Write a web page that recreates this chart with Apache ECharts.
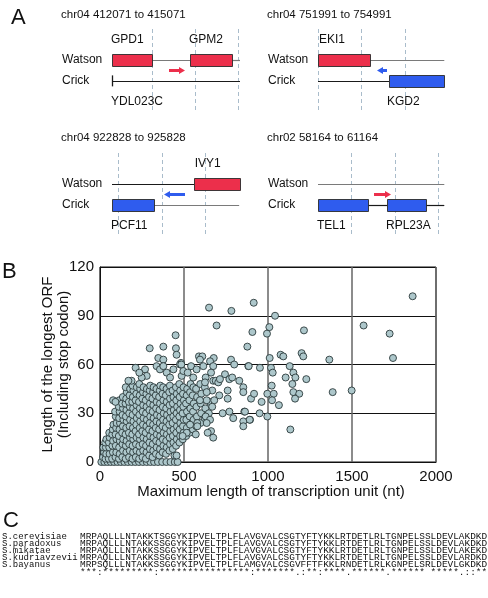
<!DOCTYPE html>
<html><head><meta charset="utf-8">
<script src="https://cdn.jsdelivr.net/npm/echarts@6/dist/echarts.min.js"></script>
<style>html,body{margin:0;padding:0;background:#fff}#c{width:488px;height:598px}</style>
</head><body><div id="c"></div>
<script>
const FONT = '"Liberation Sans", Arial, Helvetica, sans-serif';
const MONO = '"Liberation Mono", "Courier New", monospace';

// ---------- Panel A data ----------
const regionTitles = ['chr04 412071 to 415071', 'chr04 751991 to 754991', 'chr04 922828 to 925828', 'chr02 58164 to 61164'];
const strandRows = ['below', 'Crick', 'Watson', 'above'];
// gene boxes: [start, end, strand] (bp from region start)
const geneBoxes = [
  [[0, 938, 'Watson'], [1828, 2813, 'Watson']],
  [[0, 1219, 'Watson'], [1664, 2960, 'Crick']],
  [[1922, 3000, 'Watson'], [0, 984, 'Crick']],
  [[0, 1172, 'Crick'], [1617, 2531, 'Crick']]
];
// gene labels: [position, row, name]
const geneLabels = [
  [[0, 'above', 'GPD1'], [1828, 'above', 'GPM2'], [0, 'below', 'YDL023C']],
  [[47, 'above', 'EKI1'], [1641, 'below', 'KGD2']],
  [[1960, 'above', 'IVY1'], [0, 'below', 'PCF11']],
  [[0, 'below', 'TEL1'], [1617, 'below', 'RPL23A']]
];
// backbone segments: grey and dark, [start, end, strand]
const greySegments = [
  [[938, 1828, 'Watson'], [2813, 3000, 'Watson']],
  [[1219, 2960, 'Watson']],
  [[984, 2980, 'Crick']],
  [[0, 2960, 'Watson']]
];
const darkSegments = [
  [[0, 3000, 'Crick']],
  [[0, 1664, 'Crick']],
  [[0, 1922, 'Watson']],
  [[1172, 1617, 'Crick'], [2531, 2960, 'Crick']]
];
const startTicks = [[[0, 'Crick']], [], [], []];
// direction arrows: [from, to]
const arrows = [[[1336, 1711]], [[1617, 1383]], [[1711, 1219]], [[1313, 1711]]];
// dashed guide positions
const guides = [[938, 1945, 2953], [0, 1008, 2039], [141, 1172, 2180], [774, 1805, 2813]];

// ---------- Panel B data ----------
const xTicks = [0, 500, 1000, 1500, 2000];
const yTicks = [0, 30, 60, 90, 120];
const orfPoints = [
  // baseline row
  [8,0],[26,0],[45,0],[64,0],[84,0],[104,0],[124,0],[145,0],[166,0],[188,0],[210,0],[232,0],[255,0],[278,0],[300,0],[322,0],[345,0],[370,0],[395,0],[420,0],[445,0],[462,0],[443,4],[456,4],
  // dense wedge
  [18,3],[24,6],[20,9],
  [33,2],[37,5],[35,9],[31,12],[38,14],
  [52,2],[57,5],[55,9],[53,12],[58,15],[55,18],
  [72,2],[77,6],[74,10],[78,13],[73,17],[76,20],[80,23],
  [92,3],[97,6],[94,10],[98,14],[93,17],[96,21],[99,24],[94,28],[90,31],
  [113,2],[117,5],[114,9],[118,13],[112,16],[116,20],[119,24],[114,27],[117,31],[112,34],[115,38],[78,38],[92,37],
  [133,3],[137,7],[134,11],[138,14],[132,18],[136,22],[139,26],[134,29],[137,33],[132,36],[136,40],
  [153,2],[157,6],[154,10],[158,13],[152,17],[156,21],[159,25],[154,28],[157,32],[152,36],[156,39],[159,43],[153,46],
  [173,3],[177,7],[174,11],[178,15],[172,18],[176,22],[179,26],[174,30],[177,34],[172,37],[176,41],[179,45],
  [193,2],[197,6],[194,10],[198,14],[192,17],[196,21],[199,25],[194,29],[197,33],[192,37],[196,40],[199,44],[194,47],
  [213,3],[217,7],[214,11],[218,15],[212,19],[216,23],[219,27],[214,31],[217,35],[212,38],[216,42],[219,46],
  [233,2],[237,6],[234,10],[238,14],[232,17],[236,21],[239,25],[234,29],[237,33],[232,37],[236,41],[239,45],[234,48],
  [253,3],[257,7],[254,11],[258,15],[252,19],[256,23],[259,27],[254,31],[257,35],[252,39],[256,43],[259,46],
  [273,2],[277,6],[274,10],[278,14],[272,18],[276,22],[279,26],[274,30],[277,34],[272,38],[276,42],[279,45],
  [293,4],[297,8],[294,12],[298,16],[292,20],[296,24],[299,28],[294,32],[297,36],[292,40],[296,44],[299,47],
  [313,3],[317,7],[314,11],[318,15],[312,19],[316,23],[319,27],[314,31],[317,35],[312,39],[316,43],[319,46],
  [333,5],[337,9],[334,13],[338,17],[332,21],[336,25],[339,29],[334,33],[337,37],[332,41],[336,45],
  [353,4],[357,8],[354,12],[358,16],[352,20],[356,24],[359,28],[354,32],[357,36],[352,40],[356,44],[359,47],
  [373,6],[377,10],[374,14],[378,18],[372,22],[376,26],[379,30],[374,34],[377,38],[372,42],[376,46],
  [393,5],[397,9],[394,13],[398,17],[392,21],[396,25],[399,29],[394,33],[397,37],[392,41],[396,45],
  [413,7],[417,11],[414,15],[418,19],[412,23],[416,27],[419,31],[414,35],[417,39],[412,43],[416,47],
  [433,8],[437,12],[434,16],[438,20],[432,24],[436,28],[439,32],[434,36],[437,40],[432,44],
  [453,10],[457,14],[454,18],[458,22],[452,26],[456,30],[459,34],[454,38],[457,42],[452,46],
  [473,12],[477,16],[474,20],[478,24],[472,28],[476,32],[479,36],[474,40],[477,44],[472,48],
  [493,14],[497,18],[494,22],[498,26],[492,30],[496,34],[499,38],[494,42],[497,46],
  [513,16],[517,21],[514,26],[518,31],[512,36],[516,41],[519,45],
  [533,18],[537,23],[534,28],[538,33],[532,38],[536,43],[539,48],
  [553,20],[557,26],[554,31],[558,36],[552,41],[556,46],
  [573,22],[577,28],[574,34],[578,40],[572,45],
  [598,24],[602,30],[599,36],[603,42],[597,48],
  [623,27],[627,33],[624,46],[648,30],[652,37],
  // upper scatter of the wedge
  [450,78],[452,70],[456,66],[296,70],[377,71],[347,64],[377,63],[482,61],
  [212,58],[268,57],[278,53],[248,52],[234,55],[188,50],[169,50],[337,59],[357,57],[377,59],[397,55],[417,52],[437,57],[476,60],[486,53],
  // 500-1000 nt
  [649,95],[782,93],[694,84],[589,65],[609,65],[595,63],[677,64],[655,62],[780,63],[799,60],[484,60],[542,59],[575,57],[615,59],[674,59],
  [883,59],[952,58],[496,56],[522,55],[555,52],[661,55],[674,50],[629,52],[625,49],[744,54],[770,51],[787,52],[689,50],[704,49],[714,51],
  [829,50],[853,46],[853,43],[760,44],[760,39],[899,39],[917,42],[962,37],[710,41],[668,44],[635,43],[680,38],[635,38],[595,38],[668,34],
  [730,30],[770,31],[859,31],[950,30],[996,28],[793,27],[853,25],[853,22],[893,26],[629,28],[655,26],[635,24],[579,24],[579,22],[536,23],
  [661,19],[641,18],[674,15],[570,17],[516,18],[492,16],[915,98],[907,80],[877,71],[885,59],[863,31],[891,26],
  // > 1000 nt
  [1861,102],[1042,90],[1569,84],[1008,83],[994,79],[1724,79],[1214,81],[1075,66],[1091,65],[1200,67],[1210,65],[1010,64],[1365,63],[1744,64],
  [1018,58],[1028,55],[1129,59],[1151,55],[1163,52],[1105,52],[1228,51],[1145,48],[1022,47],[996,42],[1034,42],[1151,43],[1186,42],
  [1161,39],[1024,38],[1065,35],[1385,43],[1498,44],[1133,20]
];

// ---------- Panel C data ----------
const species = ['S.cerevisiae', 'S.paradoxus', 'S.mikatae', 'S.kudriavzevii', 'S.bayanus'];
const sequences = [
  'MRPAQLLLNTAKKTSGGYKIPVELTPLFLAVGVALCSGTYFTYKKLRTDETLRLTGNPELSSLDEVLAKDKD',
  'MRPAQLLLNTAKKSSGGYKIPVELTPLFLAVGVALCSGTYFTYKKLRTDETLRLTGNPELSSLDEVLAKDKD',
  'MRPAQLLLNTAKKSSGGYKIPVELTPLFLAVGVALCSGTYFTYKKLRTDETLRLTGNPELSSLDEVLAKEKD',
  'MRPAQLLLNTAKKSSGGYKIPVELTPLFLAVGVALCSGTYFTYKKLRTDETLRLTGNPELSSLDEVLARDKD',
  'MRPSQLLLNTAKKSSGGYKIPVELTPLFLAMGVALCSGVFFTFKKLRNDETLRLKGNPELSRLDEVLGKDKD'
];
const conservation = '***:*********:****************:*******.:**:****.******.****** *****.::**';

// ---------- layout ----------
const panelPos = [{left: 112, top: 29}, {left: 318, top: 29}, {left: 112, top: 153}, {left: 318, top: 153}];
const titlePos = [[61, 15], [267, 15], [61, 138], [267, 138]];
const RED = '#ec2f4b', BLUE = '#2f5cee';

const grids = [], xAxes = [], yAxes = [], series = [];
panelPos.forEach((p, i) => {
  grids.push({left: p.left, top: p.top, width: 128, height: 83});
  xAxes.push({type: 'value', gridIndex: i, min: 0, max: 3000, show: false});
  yAxes.push({type: 'category', gridIndex: i, data: strandRows, boundaryGap: true,
    axisLine: {show: false}, axisTick: {show: false}, splitLine: {show: false},
    axisLabel: {show: true, interval: 0, align: 'left', margin: 50, fontSize: 12, fontFamily: FONT, color: '#111',
      formatter: v => (v === 'Crick' || v === 'Watson') ? v : ''}});
  const row = r => strandRows.indexOf(r);
  series.push({type: 'custom', xAxisIndex: i, yAxisIndex: i, silent: true, z: 1,
    data: guides[i].map(g => [g, 0]), encode: {x: 0, y: 1},
    renderItem(params, api) {
      const x = Math.round(api.coord([api.value(0), 0])[0]) + 0.5;
      const cs = params.coordSys;
      return {type: 'line', shape: {x1: x, y1: cs.y, x2: x, y2: cs.y + cs.height},
        style: {stroke: '#a9bccb', lineWidth: 1, lineDash: [4, 3]}};
    }});
  [[greySegments[i], '#7a7a7a'], [darkSegments[i], '#1a1a1a']].forEach(([segs, col]) => {
    series.push({type: 'custom', xAxisIndex: i, yAxisIndex: i, silent: true, z: 2,
      data: segs.map(s => [s[0], s[1], row(s[2])]), encode: {x: [0, 1], y: 2},
      renderItem(params, api) {
        const a = api.coord([api.value(0), api.value(2)]);
        const b = api.coord([api.value(1), api.value(2)]);
        const y = Math.round(a[1]) + 0.5;
        return {type: 'line', shape: {x1: a[0], y1: y, x2: b[0], y2: y}, style: {stroke: col, lineWidth: 1.2}};
      }});
  });
  series.push({type: 'custom', xAxisIndex: i, yAxisIndex: i, silent: true, z: 2,
    data: startTicks[i].map(s => [s[0], row(s[1])]), encode: {x: 0, y: 1},
    renderItem(params, api) {
      const a = api.coord([api.value(0), api.value(1)]);
      return {type: 'line', shape: {x1: a[0] + 0.5, y1: a[1] - 5.5, x2: a[0] + 0.5, y2: a[1] + 5.5}, style: {stroke: '#1a1a1a', lineWidth: 1.3}};
    }});
  series.push({type: 'custom', xAxisIndex: i, yAxisIndex: i, silent: true, z: 3,
    data: geneBoxes[i].map(g => [g[0], g[1], row(g[2])]), encode: {x: [0, 1], y: 2},
    renderItem(params, api) {
      const a = api.coord([api.value(0), api.value(2)]);
      const b = api.coord([api.value(1), api.value(2)]);
      const col = api.value(2) === row('Watson') ? RED : BLUE;
      return {type: 'rect', shape: {x: Math.round(a[0]) + 0.5, y: Math.round(a[1] - 6) + 0.5, width: Math.round(b[0] - a[0]), height: 12},
        style: {fill: col, stroke: '#2a2a2a', lineWidth: 0.9}};
    }});
  series.push({type: 'custom', xAxisIndex: i, yAxisIndex: i, silent: true, z: 3,
    data: arrows[i].map(a => [a[0], a[1], 0]), encode: {x: [0, 1], y: 2},
    renderItem(params, api) {
      const f = api.value(0), t = api.value(1);
      const x0 = api.coord([f, 1])[0], x1 = api.coord([t, 1])[0];
      const y = (api.coord([f, row('Watson')])[1] + api.coord([f, row('Crick')])[1]) / 2;
      const d = t > f ? 1 : -1, xh = x1 - d * 6;
      return {type: 'polygon', shape: {points: [[x0, y - 1.6], [xh, y - 1.6], [xh, y - 3.6], [x1, y], [xh, y + 3.6], [xh, y + 1.6], [x0, y + 1.6]]},
        style: {fill: d > 0 ? RED : BLUE}};
    }});
  const labs = geneLabels[i];
  series.push({type: 'custom', xAxisIndex: i, yAxisIndex: i, silent: true, z: 4,
    data: labs.map(l => [l[0], row(l[1])]), encode: {x: 0, y: 1},
    renderItem(params, api) {
      const a = api.coord([api.value(0), api.value(1)]);
      return {type: 'text', x: a[0] - 1, y: a[1],
        style: {text: labs[params.dataIndex][2], font: '12px ' + FONT, fill: '#111',
          align: 'left', verticalAlign: 'middle', textAlign: 'left', textVerticalAlign: 'middle'}};
    }});
});

// Panel B grid
grids.push({left: 100, top: 267, width: 336, height: 195, show: true, borderColor: '#111', borderWidth: 1, backgroundColor: 'transparent'});
xAxes.push({type: 'value', gridIndex: 4, min: xTicks[0], max: xTicks[xTicks.length - 1], interval: xTicks[1] - xTicks[0],
  axisLine: {show: true, onZero: false, lineStyle: {color: '#111', width: 1}}, axisTick: {show: false},
  axisLabel: {fontSize: 15, fontFamily: FONT, color: '#111', margin: 7, formatter: v => String(v)},
  splitLine: {show: true, lineStyle: {color: '#666', width: 1.5}}});
yAxes.push({type: 'value', gridIndex: 4, min: yTicks[0], max: yTicks[yTicks.length - 1], interval: yTicks[1] - yTicks[0],
  axisLine: {show: true, onZero: false, lineStyle: {color: '#111', width: 1}}, axisTick: {show: false},
  axisLabel: {fontSize: 15, fontFamily: FONT, color: '#111', margin: 6, formatter: v => String(v)},
  splitLine: {show: true, lineStyle: {color: '#111', width: 1}}});
series.push({type: 'scatter', xAxisIndex: 4, yAxisIndex: 4, data: orfPoints, symbol: 'circle', symbolSize: 7, z: 5,
  itemStyle: {color: '#adc7cb', borderColor: '#2b3a3b', borderWidth: 0.9, opacity: 1}, silent: true});

// graphic texts
const txt = (x, y, text, font, extra) => Object.assign({type: 'text', x, y, silent: true,
  style: {text, font, fill: '#111', align: 'left', verticalAlign: 'middle', textAlign: 'left', textVerticalAlign: 'middle'}}, extra || {});
const graphics = [];
graphics.push(txt(11, 18, 'A', '22px ' + FONT));
graphics.push(txt(2, 272, 'B', '22px ' + FONT));
graphics.push(txt(3, 521, 'C', '22px ' + FONT));
regionTitles.forEach((t, i) => graphics.push(txt(titlePos[i][0], titlePos[i][1], t, '11.5px ' + FONT)));
graphics.push({type: 'text', x: 56, y: 364.5, rotation: Math.PI / 2, silent: true,
  style: {text: 'Length of the longest ORF\n(Including stop codon)', font: '15px ' + FONT, lineHeight: 16, fill: '#111',
    align: 'center', verticalAlign: 'middle', textAlign: 'center', textVerticalAlign: 'middle'}});
graphics.push({type: 'text', x: 271, y: 492, silent: true,
  style: {text: 'Maximum length of transcription unit (nt)', font: '15px ' + FONT, fill: '#111',
    align: 'center', verticalAlign: 'middle', textAlign: 'center', textVerticalAlign: 'middle'}});
species.forEach((s, i) => {
  const y = 537 + i * 6.95;
  graphics.push(txt(2, y, s, '9px ' + MONO, {scaleX: 1.0}));
  graphics.push(txt(80, y, sequences[i], '9px ' + MONO, {scaleX: 1.047}));
});
graphics.push(txt(80, 537 + 5 * 6.95 + 0.5, conservation, '9px ' + MONO, {scaleX: 1.047}));

const chart = echarts.init(document.getElementById('c'), null, {renderer: 'canvas'});
chart.setOption({
  animation: false,
  backgroundColor: '#fff',
  grid: grids, xAxis: xAxes, yAxis: yAxes, series,
  graphic: {elements: graphics}
});
</script>
</body></html>
